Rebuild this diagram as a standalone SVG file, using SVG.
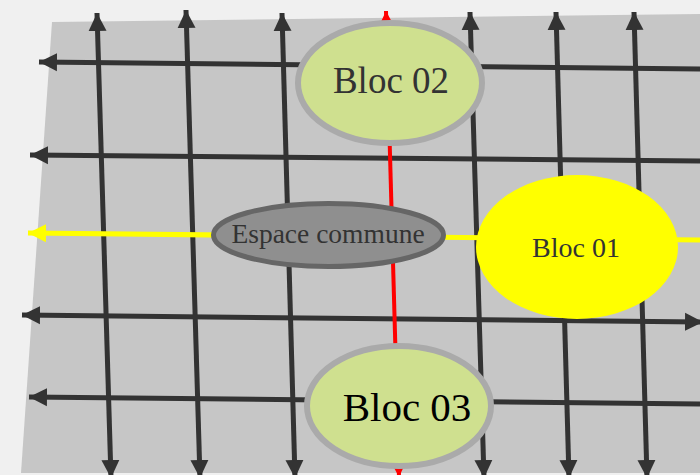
<svg xmlns="http://www.w3.org/2000/svg" width="700" height="475" viewBox="0 0 700 475">
<style>
.g{stroke:#333;stroke-width:5;fill:none}
.t{font-family:"Liberation Serif","Times New Roman",serif;text-anchor:middle}
</style>
<defs>
<marker id="ad" markerUnits="userSpaceOnUse" markerWidth="20" markerHeight="20" viewBox="0 0 20 20" refX="18" refY="10" orient="auto-start-reverse"><path d="M0,1 L18,10 L0,19 Z" fill="#333"/></marker>
<marker id="ar" markerUnits="userSpaceOnUse" markerWidth="16" markerHeight="16" viewBox="0 0 16 16" refX="14" refY="8" orient="auto-start-reverse"><path d="M0,1 L14,8 L0,15 Z" fill="#f00"/></marker>
<marker id="ay" markerUnits="userSpaceOnUse" markerWidth="20" markerHeight="20" viewBox="0 0 20 20" refX="18" refY="10" orient="auto-start-reverse"><path d="M0,1 L18,10 L0,19 Z" fill="#ff0"/></marker>
</defs>
<rect width="700" height="475" fill="#f0f0f0"/>
<polygon points="52,22 700,14 700,473 21,473" fill="#c6c6c6"/>
<g id="connectors">
<line class="g" x1="97" y1="13" x2="111" y2="478" marker-start="url(#ad)" marker-end="url(#ad)"/>
<line class="g" x1="186" y1="10" x2="200" y2="478" marker-start="url(#ad)" marker-end="url(#ad)"/>
<line class="g" x1="282" y1="13" x2="295" y2="478" marker-start="url(#ad)" marker-end="url(#ad)"/>
<line class="g" x1="470" y1="12" x2="484" y2="478" marker-start="url(#ad)" marker-end="url(#ad)"/>
<line class="g" x1="556" y1="12" x2="569" y2="478" marker-start="url(#ad)" marker-end="url(#ad)"/>
<line class="g" x1="634" y1="12" x2="647" y2="478" marker-start="url(#ad)" marker-end="url(#ad)"/>
<line class="g" x1="39" y1="62" x2="700" y2="69" marker-start="url(#ad)"/>
<line class="g" x1="30" y1="155" x2="700" y2="161" marker-start="url(#ad)"/>
<line class="g" x1="22" y1="315" x2="703" y2="322" marker-start="url(#ad)" marker-end="url(#ad)"/>
<line class="g" x1="29" y1="397" x2="700" y2="404" marker-start="url(#ad)"/>
<line x1="386" y1="11" x2="399" y2="477" stroke="#f00" stroke-width="4" marker-start="url(#ar)" marker-end="url(#ar)"/>
<line x1="28" y1="233" x2="700" y2="240" stroke="#ff0" stroke-width="5" marker-start="url(#ay)"/>
</g>
<g id="bloc02">
<ellipse cx="390" cy="83" rx="92" ry="60" fill="#cfe08f" stroke="#aaa" stroke-width="6"/>
<text class="t" x="391" y="93" font-size="37" fill="#333">Bloc 02</text>
</g>
<g id="espace">
<ellipse cx="328.5" cy="235" rx="115" ry="31.5" fill="#8f8f8f" stroke="#666" stroke-width="5"/>
<text class="t" x="328" y="243" font-size="27.5" fill="#333">Espace commune</text>
</g>
<g id="bloc01">
<ellipse cx="577" cy="247" rx="101" ry="72" fill="#ff0"/>
<text class="t" x="576" y="257" font-size="28" fill="#333">Bloc 01</text>
</g>
<g id="bloc03">
<ellipse cx="399" cy="406" rx="92" ry="60" fill="#cfe08f" stroke="#aaa" stroke-width="6"/>
<text class="t" x="407" y="421" font-size="41" fill="#000">Bloc 03</text>
</g>
</svg>
